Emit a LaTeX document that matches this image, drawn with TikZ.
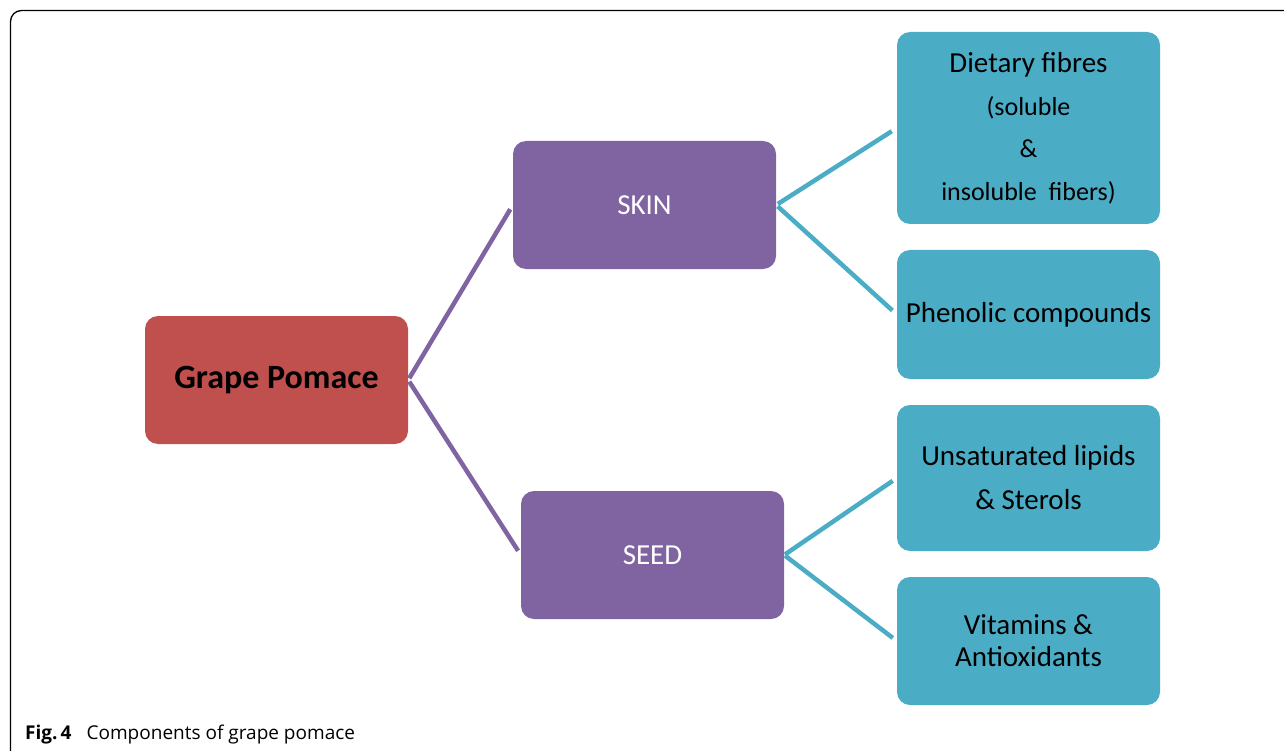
\documentclass[tikz,border=0pt]{standalone}
\usepackage{fontspec}
\setmainfont{Carlito}
\newfontfamily\capfont{Open Sans}
\definecolor{redbox}{HTML}{C0504D}
\definecolor{purplebox}{HTML}{8064A2}
\definecolor{tealbox}{HTML}{4BACC6}
\begin{document}
\begin{tikzpicture}[x=1pt,y=-1pt,
  box/.style={rectangle, rounded corners=13pt, minimum width=263pt, inner sep=0pt, align=center},
  rootbox/.style={box, fill=redbox, minimum height=128pt, font=\fontsize{34}{40}\selectfont\bfseries},
  midbox/.style={box, fill=purplebox, minimum height=128pt, text=white, font=\fontsize{29}{42}\selectfont},
  leafbox/.style={box, fill=tealbox, font=\fontsize{29}{42}\selectfont},
  purpleline/.style={draw=purplebox, line width=4.5pt},
  tealline/.style={draw=tealbox, line width=4.5pt}]
\useasboundingbox (0,0) rectangle (1284,751);
\draw[line width=1.3pt, rounded corners=11pt] (10.5,790) -- (10.5,10.5) -- (1310,10.5);

\node[rootbox] (grape) at (276.5,380) {Grape Pomace};
\node[midbox] (skin) at (644.5,205) {SKIN};
\node[midbox] (seed) at (652.5,555) {SEED};
\node[leafbox, minimum height=192pt] (diet) at (1028.5,128)
  {Dietary fibres\\[1pt]{\fontsize{26}{42}\selectfont (soluble}\\[0pt]{\fontsize{26}{42}\selectfont \&}\\[1pt]{\fontsize{26}{42}\selectfont insoluble\ \ fibers)}};
\node[leafbox, minimum height=129pt] (phen) at (1028.5,314.5) {Phenolic compounds};
\node[leafbox, minimum height=146pt] (unsat) at (1028.5,478) {Unsaturated lipids\\[2pt]\& Sterols};
\node[leafbox, minimum height=128pt, font=\fontsize{29}{32}\selectfont] (vit) at (1028.5,641) {Vitamins \&\\Antioxidants};

\draw[purpleline, shorten <=2pt, shorten >=5pt] (grape.east) -- (skin.west);
\draw[purpleline, shorten <=2pt, shorten >=5pt] (grape.east) -- (seed.west);
\draw[tealline, shorten <=2pt, shorten >=6pt] (skin.east) -- (diet.west);
\draw[tealline, shorten <=2pt, shorten >=6pt] (skin.east) -- (phen.west);
\draw[tealline, shorten <=1pt, shorten >=5pt] (seed.east) -- (unsat.west);
\draw[tealline, shorten <=1pt, shorten >=5pt] (seed.east) -- (vit.west);

\node[anchor=base west, inner sep=0pt, font=\capfont\fontsize{19}{20}\selectfont] (caption) at (25,739)
  {\textbf{Fig.\,4}\hspace{15pt}Components of grape pomace};
\end{tikzpicture}
\end{document}
